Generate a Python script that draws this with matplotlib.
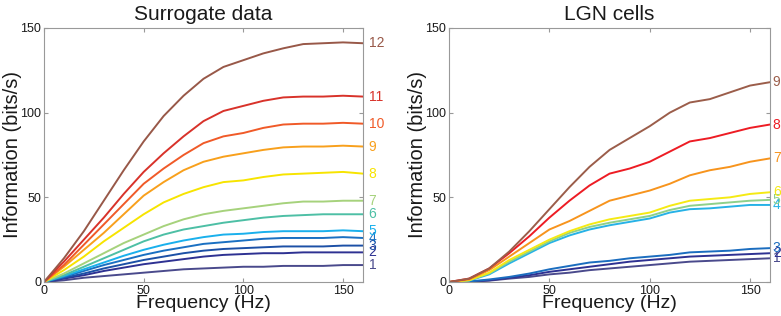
import numpy as np
import matplotlib
matplotlib.use("Agg")
import matplotlib.pyplot as plt

plt.rcParams['font.family'] = ['Liberation Sans', 'DejaVu Sans']

freq = list(range(0, 170, 10))   # Hz

# Surrogate data, curves 1..12
surr = [
    [0, 1, 2.5, 3.5, 4.5, 5.5, 6.5, 7.5, 8, 8.5, 9, 9, 9.5, 9.5, 9.5, 10, 10],
    [0, 2, 4, 6.5, 8.5, 10.5, 12, 13.5, 15, 16, 16.5, 17, 17, 17.5, 17.5, 17.5, 17.5],
    [0, 2.5, 5, 8, 10.5, 13, 15, 17, 18.5, 19.5, 20, 20.5, 21, 21, 21, 21.5, 21.5],
    [0, 3, 6.5, 10, 13, 16, 18.5, 20.5, 22.5, 23.5, 24.5, 25.5, 26, 26, 26, 26.5, 26],
    [0, 3.5, 7.5, 11.5, 15.5, 19, 22, 24.5, 26.5, 28, 28.5, 29.5, 30, 30, 30, 30.5, 30],
    [0, 4, 9, 14, 19, 24, 28, 31, 33, 35, 36.5, 38, 39, 39.5, 40, 40, 40],
    [0, 5, 11, 17, 23, 28, 33, 37, 40, 42, 43.5, 45, 46.5, 47.5, 47.5, 48, 48],
    [0, 7, 15, 24, 32, 40, 47, 52, 56, 59, 60, 62, 63.5, 64, 64.5, 65, 64],
    [0, 9, 19, 29, 40, 51, 59, 66, 71, 74, 76, 78, 79.5, 80, 80, 80.5, 80],
    [0, 10, 22, 34, 46, 58, 67, 75, 82, 86, 88, 91, 93, 93.5, 93.5, 94, 93.5],
    [0, 12, 25, 38, 52, 65, 76, 86, 95, 101, 104, 107, 109, 109.5, 109.5, 110, 109.5],
    [0, 14, 30, 48, 66, 83, 98, 110, 120, 127, 131, 135, 138, 140.5, 141, 141.5, 141],
]
surr_colors = ['#4a4a8c', '#2e3192', '#1c50a6', '#1a70c2', '#1ab0ec', '#4dbfa5',
               '#a6d27c', '#f7e400', '#f8a01c', '#f05a28', '#d8322a', '#985848']

# LGN cells, curves 1..9
lgn = [
    [0, 0.1, 0.8, 2, 3, 4.5, 5.5, 7, 8, 9, 10, 11, 12, 12.5, 13, 13.5, 14],
    [0, 0.2, 1, 2.5, 4, 6, 7.5, 9, 10.5, 12, 13, 14, 15, 15.5, 16, 16.5, 17],
    [0, 0.3, 1.5, 3, 5, 7.5, 9.5, 11.5, 12.5, 14, 15, 16, 17.5, 18, 18.5, 19.5, 20],
    [0, 0.8, 4.5, 11, 17, 23, 27.5, 31, 33.5, 35.5, 37.5, 41, 43, 43.5, 44.5, 45.5, 45.5],
    [0, 1, 5, 12, 18, 24, 29, 32.5, 35, 37, 39, 42.5, 45, 46, 47, 48, 48.5],
    [0, 1, 5.5, 13, 19, 25, 30, 34, 37, 39, 41, 45, 48, 49, 50, 52, 53],
    [0, 1.5, 7, 15, 23, 31, 36, 42, 48, 51, 54, 58, 63, 66, 68, 71, 73],
    [0, 2, 8, 17, 27, 38, 48, 57, 64, 67, 71, 77, 83, 85, 88, 91, 93],
    [0, 2, 8, 18, 30, 43, 56, 68, 78, 85, 92, 100, 106, 108, 112, 116, 118],
]
lgn_colors = ['#4a4a8c', '#2e3192', '#1b6dbf', '#27b2e6', '#8ed08a', '#f5ea14',
              '#f7941d', '#ed1c24', '#9b5d4a']

fig = plt.figure(figsize=(7.81, 3.16), dpi=100)
ax1 = fig.add_axes([0.0563, 0.1076, 0.4085, 0.8038])
ax2 = fig.add_axes([0.575, 0.1076, 0.411, 0.8038])

for ax, data, colors, title, off in [(ax1, surr, surr_colors, "Surrogate data", 4),
                                     (ax2, lgn, lgn_colors, "LGN cells", 2)]:
    for i, (y, c) in enumerate(zip(data, colors)):
        ax.plot(freq, y, '-', color=c, lw=1.4)
        ax.annotate(str(i + 1), xy=(1, y[-1]), xycoords=('axes fraction', 'data'),
                    xytext=(off, 0), textcoords='offset points',
                    color=c, fontsize=10, va='center', ha='left',
                    annotation_clip=False)
    ax.set_xlim(0, 160)
    ax.set_ylim(0, 150)
    ax.set_xticks([0, 50, 100, 150])
    ax.set_yticks([0, 50, 100, 150])
    ax.tick_params(direction='in', length=3, top=True, right=True,
                   labelsize=9, color='#999999', labelcolor='#1a1a1a', pad=2)
    for s in ax.spines.values():
        s.set_color('#999999')
    ax.set_title(title, fontsize=15, color='#1a1a1a', pad=6)
    ax.set_xlabel("Frequency (Hz)", fontsize=14, color='#1a1a1a', labelpad=-1)
    ax.set_ylabel("Information (bits/s)", fontsize=14.5, color='#1a1a1a', labelpad=-1)

fig.savefig("out.png", dpi=100)
